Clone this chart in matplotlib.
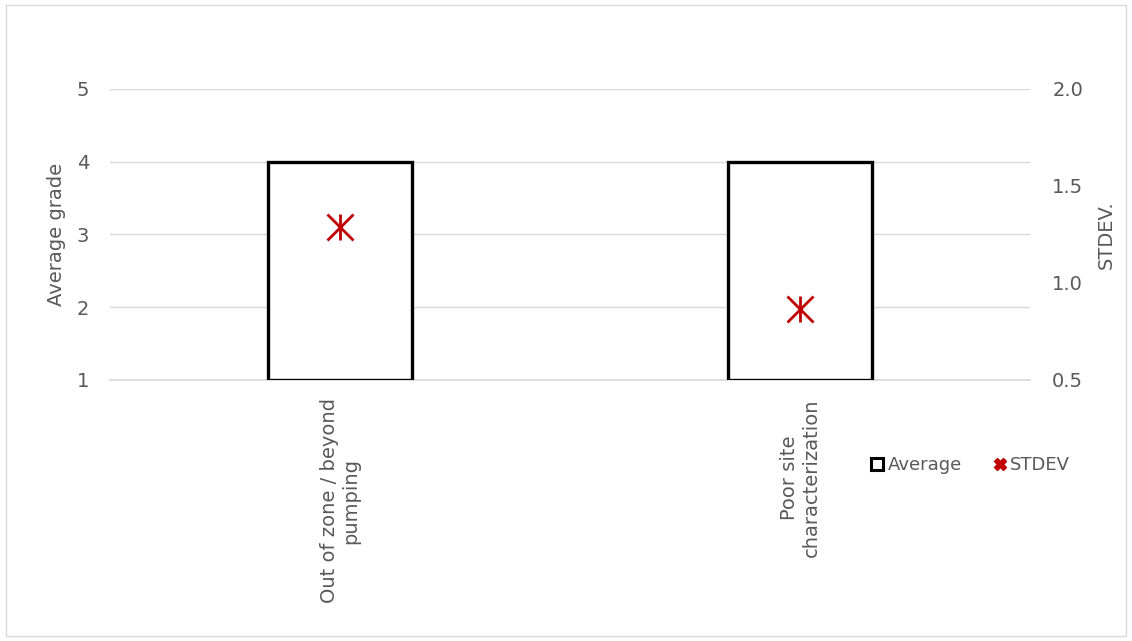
import matplotlib.pyplot as plt
from matplotlib.lines import Line2D
from matplotlib.patches import Rectangle
from matplotlib.ticker import FormatStrFormatter

categories = ["Out of zone / beyond\npumping", "Poor site\ncharacterization"]
average = [4, 4]
stdev = [1.29, 0.866]

grey = '#595959'
red = '#C00000'

fig = plt.figure(figsize=(11.32, 6.41), dpi=100)
fig.patches.append(Rectangle((0.005, 0.008), 0.99, 0.984, transform=fig.transFigure,
                             fill=False, edgecolor='#d9d9d9', lw=1))

ax = fig.add_axes([0.0972, 0.4072, 0.8127, 0.454])
x = list(range(len(categories)))

ax.bar(x, [a - 1 for a in average], bottom=1, width=0.315,
       color='white', edgecolor='black', linewidth=2.4, zorder=3)
ax.set_xlim(-0.5, len(categories) - 0.5)
ax.set_ylim(1, 5)
ax.set_yticks([1, 2, 3, 4, 5])
ax.grid(axis='y', color='#d9d9d9', lw=1, zorder=0)
ax.axhline(1, color='#d9d9d9', lw=1.2, clip_on=False, zorder=1)
for s in ax.spines.values():
    s.set_visible(False)
ax.tick_params(length=0, labelsize=14, colors=grey, pad=15)
ax.tick_params(axis='x', pad=13)
ax.set_xticks(x)
ax.set_xticklabels(categories, rotation=90, ha='center', va='top',
                   multialignment='center', fontsize=14)
ax.set_ylabel("Average grade", fontsize=14, color=grey, labelpad=8)

ax2 = ax.twinx()
ax2.set_ylim(0.5, 2.0)
ax2.set_yticks([0.5, 1.0, 1.5, 2.0])
ax2.yaxis.set_major_formatter(FormatStrFormatter('%.1f'))
for s in ax2.spines.values():
    s.set_visible(False)
ax2.tick_params(length=0, labelsize=14, colors=grey, pad=16)
ax2.plot(x, stdev, linestyle='none', marker='x', markersize=19,
         markeredgewidth=2, color=red, zorder=5)
ax2.plot(x, stdev, linestyle='none', marker='|', markersize=19,
         markeredgewidth=2, color=red, zorder=5)
ax2.set_ylabel("STDEV.", fontsize=14, color=grey, labelpad=10)

handles = [
    Line2D([], [], linestyle='none', marker='s', markersize=9, markerfacecolor='white',
           markeredgecolor='black', markeredgewidth=2.2),
    Line2D([], [], linestyle='none', marker='X', markersize=9, color=red),
]
fig.legend(handles, ["Average", "STDEV"], loc='center', bbox_to_anchor=(0.856, 0.2746),
           ncol=2, frameon=False, fontsize=13, handletextpad=0.05, columnspacing=1.6,
           labelcolor=grey, handlelength=1)

plt.savefig('out.png', dpi=100)
